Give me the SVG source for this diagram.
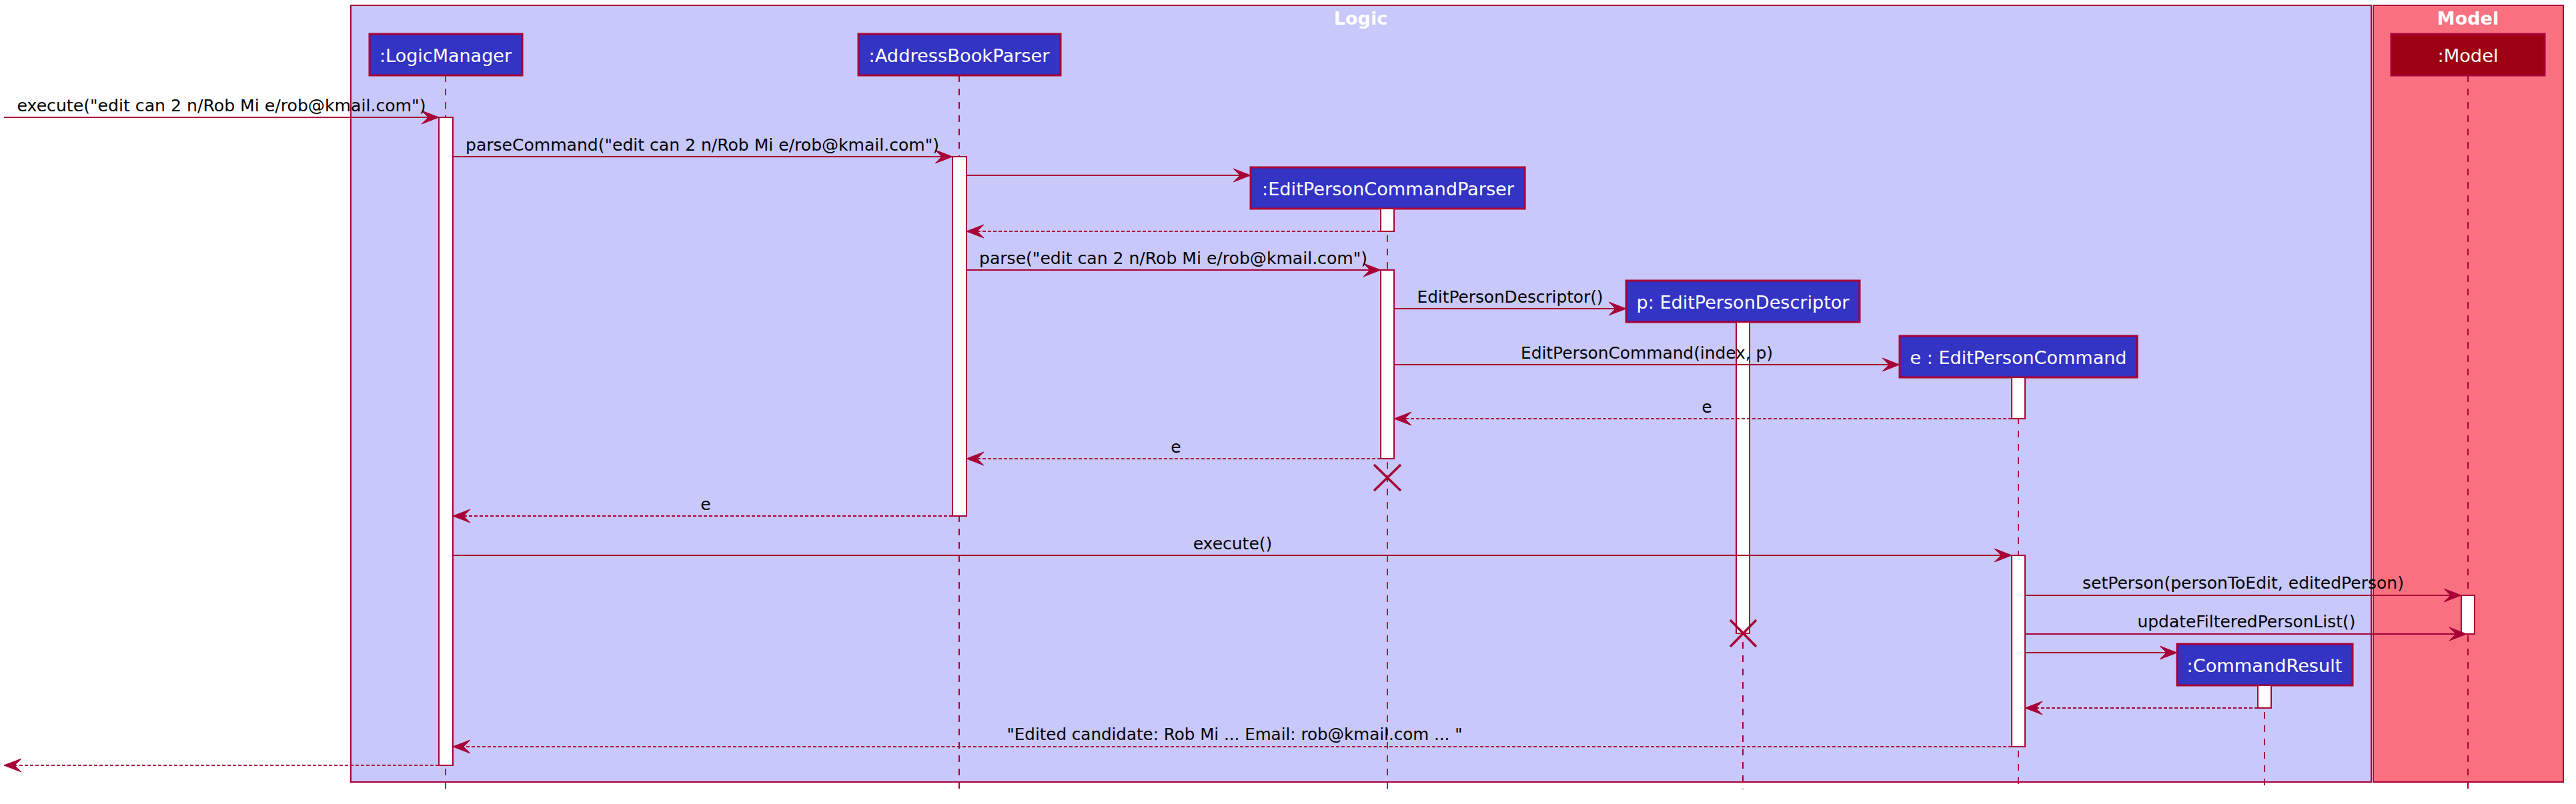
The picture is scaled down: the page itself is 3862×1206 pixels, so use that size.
<svg xmlns="http://www.w3.org/2000/svg" width="3862" height="1206" viewBox="0 0 3862 1206">
<style>
.frame{stroke:#A80036;stroke-width:2}
.ftitle{font-family:"DejaVu Sans","Liberation Sans",sans-serif;font-size:27px;font-weight:bold;fill:#FFFFFF;text-anchor:middle}
.pbox{fill:#3333C4;stroke:#A80036;stroke-width:3}
.mbox{fill:#9D0012;stroke:#A80036;stroke-width:3}
.ptext{font-family:"DejaVu Sans","Liberation Sans",sans-serif;font-size:26px;fill:#FFFFFF;text-anchor:middle}
.life{stroke:#A80036;stroke-width:2;stroke-dasharray:10,10;fill:none}
.act{fill:#FFFFFF;stroke:#A80036;stroke-width:2}
.msg{stroke:#A80036;stroke-width:2;fill:none;marker-end:url(#ah)}
.ret{stroke:#A80036;stroke-width:2;fill:none;stroke-dasharray:5,3;marker-end:url(#ah)}
.mtext{font-family:"DejaVu Sans","Liberation Sans",sans-serif;font-size:25px;fill:#000000;text-anchor:middle}
.x{stroke:#A80036;stroke-width:3.5;fill:none}
</style>
<defs>
<marker id="ah" markerUnits="userSpaceOnUse" markerWidth="28" markerHeight="22" viewBox="0 0 28 22" refX="26" refY="11" orient="auto">
<path d="M26,11 L0,1 L10,11 L0,21 Z" fill="#A80036" stroke="#A80036" stroke-width="1"/>
</marker>
</defs>
<rect width="3862" height="1206" fill="#FFFFFF"/>
<g id="frame-logic">
<rect class="frame" x="526" y="8" width="3029" height="1165" fill="#C8C8FA"/>
<text class="ftitle" x="2040" y="37">Logic</text>
</g>
<g id="frame-model">
<rect class="frame" x="3558" y="8" width="285" height="1165" fill="#F97181"/>
<text class="ftitle" x="3700" y="37">Model</text>
</g>
<g id="lifelines">
<line class="life" x1="668" y1="113" x2="668" y2="1184"/>
<line class="life" x1="1438" y1="113" x2="1438" y2="1184"/>
<line class="life" x1="2080" y1="313" x2="2080" y2="1184"/>
<line class="life" x1="2613" y1="483" x2="2613" y2="1184"/>
<line class="life" x1="3026" y1="566" x2="3026" y2="1184"/>
<line class="life" x1="3395" y1="1028" x2="3395" y2="1184"/>
<line class="life" x1="3700" y1="113" x2="3700" y2="1184"/>
</g>
<g id="LogicManager">
<rect class="pbox" x="554" y="51" width="229" height="62"/>
<text class="ptext" x="668" y="93" textLength="198" lengthAdjust="spacingAndGlyphs">:LogicManager</text>
<rect class="act" x="658" y="176" width="21" height="972"/>
</g>
<g id="AddressBookParser">
<rect class="pbox" x="1287" y="51" width="303" height="62"/>
<text class="ptext" x="1438" y="93" textLength="271" lengthAdjust="spacingAndGlyphs">:AddressBookParser</text>
<rect class="act" x="1428" y="235" width="21" height="539"/>
</g>
<g id="EditPersonCommandParser">
<rect class="pbox" x="1875" y="251" width="411" height="62"/>
<text class="ptext" x="2081" y="293" textLength="378" lengthAdjust="spacingAndGlyphs">:EditPersonCommandParser</text>
<rect class="act" x="2070" y="313" width="20" height="34"/>
<rect class="act" x="2070" y="405" width="20" height="283"/>
<path class="x" d="M2060,697 L2100,736 M2100,697 L2060,736"/>
</g>
<g id="EditPersonDescriptor">
<rect class="pbox" x="2438" y="421" width="350" height="62"/>
<text class="ptext" x="2613" y="463" textLength="319" lengthAdjust="spacingAndGlyphs">p: EditPersonDescriptor</text>
<rect class="act" x="2603" y="483" width="20" height="467"/>
<path class="x" d="M2594,930 L2633,970 M2633,930 L2594,970"/>
</g>
<g id="EditPersonCommand">
<rect class="pbox" x="2848" y="504" width="356" height="62"/>
<text class="ptext" x="3026" y="546" textLength="325" lengthAdjust="spacingAndGlyphs">e : EditPersonCommand</text>
<rect class="act" x="3016" y="566" width="20" height="62"/>
<rect class="act" x="3016" y="833" width="20" height="287"/>
</g>
<g id="CommandResult">
<rect class="pbox" x="3264" y="966" width="263" height="62"/>
<text class="ptext" x="3395" y="1008" textLength="233" lengthAdjust="spacingAndGlyphs">:CommandResult</text>
<rect class="act" x="3385" y="1028" width="20" height="34"/>
</g>
<g id="Model">
<rect class="mbox" x="3585" y="51" width="230" height="62"/>
<text class="ptext" x="3700" y="93" textLength="91" lengthAdjust="spacingAndGlyphs">:Model</text>
<rect class="act" x="3690" y="893" width="20" height="58"/>
</g>
<g id="connectors">
<line class="msg" x1="6" y1="176" x2="658" y2="176"/>
<text class="mtext" x="332" y="167" textLength="613" lengthAdjust="spacingAndGlyphs">execute("edit can 2 n/Rob Mi e/rob@kmail.com")</text>
<line class="msg" x1="679" y1="235" x2="1428" y2="235"/>
<text class="mtext" x="1053" y="226" textLength="710" lengthAdjust="spacingAndGlyphs">parseCommand("edit can 2 n/Rob Mi e/rob@kmail.com")</text>
<line class="msg" x1="1449" y1="263" x2="1875" y2="263"/>
<line class="ret" x1="2070" y1="347" x2="1449" y2="347"/>
<line class="msg" x1="1449" y1="405" x2="2070" y2="405"/>
<text class="mtext" x="1759" y="396" textLength="582" lengthAdjust="spacingAndGlyphs">parse("edit can 2 n/Rob Mi e/rob@kmail.com")</text>
<line class="msg" x1="2090" y1="463" x2="2438" y2="463"/>
<text class="mtext" x="2264" y="454" textLength="279" lengthAdjust="spacingAndGlyphs">EditPersonDescriptor()</text>
<line class="msg" x1="2090" y1="547" x2="2848" y2="547"/>
<text class="mtext" x="2469" y="538" textLength="378" lengthAdjust="spacingAndGlyphs">EditPersonCommand(index, p)</text>
<line class="ret" x1="3016" y1="628" x2="2090" y2="628"/>
<text class="mtext" x="2559" y="619">e</text>
<line class="ret" x1="2070" y1="688" x2="1449" y2="688"/>
<text class="mtext" x="1763" y="679">e</text>
<line class="ret" x1="1428" y1="774" x2="679" y2="774"/>
<text class="mtext" x="1058" y="765">e</text>
<line class="msg" x1="679" y1="833" x2="3016" y2="833"/>
<text class="mtext" x="1848" y="824">execute()</text>
<line class="msg" x1="3036" y1="893" x2="3690" y2="893"/>
<text class="mtext" x="3363" y="883" textLength="482" lengthAdjust="spacingAndGlyphs">setPerson(personToEdit, editedPerson)</text>
<line class="msg" x1="3036" y1="951" x2="3698" y2="951"/>
<text class="mtext" x="3368" y="941" textLength="327" lengthAdjust="spacingAndGlyphs">updateFilteredPersonList()</text>
<line class="msg" x1="3036" y1="979" x2="3264" y2="979"/>
<line class="ret" x1="3385" y1="1062" x2="3036" y2="1062"/>
<line class="ret" x1="3016" y1="1120" x2="679" y2="1120"/>
<text class="mtext" x="1851" y="1110" textLength="683" lengthAdjust="spacingAndGlyphs">"Edited candidate: Rob Mi ... Email: rob@kmail.com ... "</text>
<line class="ret" x1="658" y1="1148" x2="6" y2="1148"/>
</g>
</svg>
